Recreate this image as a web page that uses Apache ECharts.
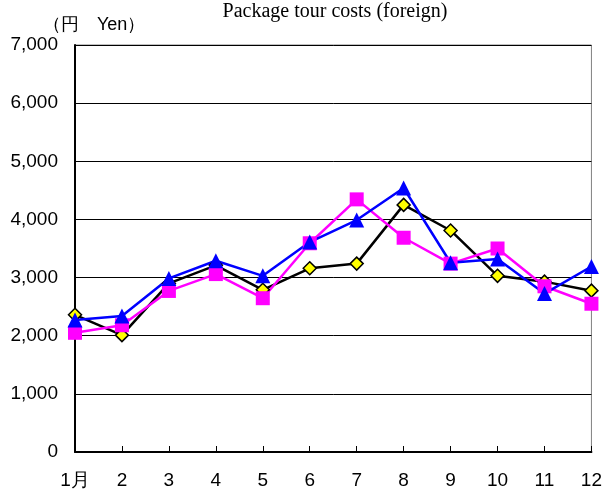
<!DOCTYPE html>
<html><head><meta charset="utf-8">
<script src="https://cdn.jsdelivr.net/npm/echarts@6/dist/echarts.min.js"></script>
<style>html,body{margin:0;padding:0;background:#fff}#c{width:605px;height:490px}</style>
</head><body><div id="c"></div>
<script>
const months = ['1月','2','3','4','5','6','7','8','9','10','11','12'];
const seriesBlack = [2360, 2010, 2900, 3210, 2790, 3160, 3240, 4250, 3810, 3030, 2930, 2775];
const seriesPink  = [2050, 2180, 2770, 3060, 2645, 3590, 4345, 3685, 3240, 3500, 2850, 2550];
const seriesBlue  = [2270, 2340, 2985, 3290, 3030, 3610, 3990, 4540, 3255, 3320, 2725, 3190];
const yTicks = { min: 0, max: 7000, interval: 1000 };

const chart = echarts.init(document.getElementById('c'));
chart.setOption({
  animation: false,
  backgroundColor: '#fff',
  title: [{
    text: 'Package tour costs (foreign)', left: 330, top: -3, textAlign: 'center',
    textStyle: { fontFamily: 'Liberation Serif', fontSize: 20, fontWeight: 'normal', color: '#000' }
  }, {
    text: '（円　Yen）', left: 38, top: 11,
    textStyle: { fontFamily: 'Liberation Sans', fontSize: 18, fontWeight: 'normal', color: '#000' }
  }],
  grid: { left: 75, right: 10, top: 45, bottom: 38, show: true, borderColor: '#808080', borderWidth: 1 },
  xAxis: {
    type: 'category', data: months, boundaryGap: false,
    axisLine: { lineStyle: { color: '#000', width: 2 } },
    axisTick: { inside: true, length: 6, lineStyle: { color: '#000' } },
    axisLabel: { color: '#000', fontFamily: 'Liberation Sans', fontSize: 19, margin: 19 },
    splitLine: { show: false }
  },
  yAxis: {
    type: 'value', min: yTicks.min, max: yTicks.max, interval: yTicks.interval,
    axisLine: { show: true, lineStyle: { color: '#000', width: 2 } },
    axisTick: { show: false },
    axisLabel: { color: '#000', fontFamily: 'Liberation Sans', fontSize: 19, margin: 17,
      formatter: v => v.toLocaleString('en-US') },
    splitLine: { lineStyle: { color: '#000', width: 1 } }
  },
  series: [{
    type: 'line', data: seriesBlack, symbol: 'diamond', symbolSize: 13,
    lineStyle: { color: '#000', width: 2.5 },
    itemStyle: { color: '#ffff00', borderColor: '#000', borderWidth: 1.5 }
  }, {
    type: 'line', data: seriesPink, symbol: 'rect', symbolSize: 14,
    lineStyle: { color: '#ff00ff', width: 2.5 },
    itemStyle: { color: '#ff00ff', borderWidth: 0 }
  }, {
    type: 'line', data: seriesBlue, symbol: 'triangle', symbolSize: 15,
    lineStyle: { color: '#0000ff', width: 2.5 },
    itemStyle: { color: '#0000ff', borderWidth: 0 }
  }]
});
</script></body></html>
